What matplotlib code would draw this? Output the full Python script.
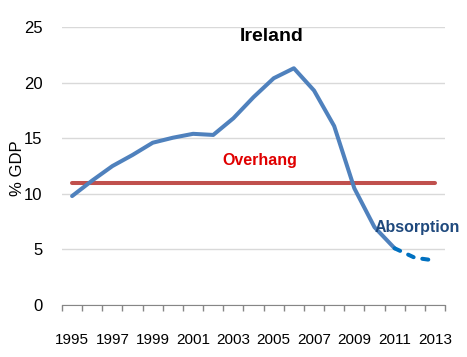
import matplotlib
matplotlib.use("Agg")
import matplotlib.pyplot as plt

# Ireland, % GDP
years = list(range(1995, 2014))
values = [9.8, 11.2, 12.5, 13.5, 14.6, 15.05, 15.4, 15.3, 16.8, 18.7,
          20.4, 21.3, 19.3, 16.1, 10.5, 7.0, 5.1, 4.25, 4.0]
split_year = 2011
overhang = 11.0
yticks = [0, 5, 10, 15, 20, 25]
xlabels = list(range(1995, 2014, 2))

plt.rcParams['font.family'] = ['Liberation Sans', 'DejaVu Sans']

fig = plt.figure(figsize=(4.67, 3.57), dpi=100)
ax = fig.add_axes([0.1328, 0.1457, 0.8202, 0.7783])

i = years.index(split_year)
ax.plot(years[:i + 1], values[:i + 1], color='#4F81BD', lw=2.9,
        solid_capstyle='round', zorder=3)
ax.plot(years[i:], values[i:], color='#0070C0', lw=2.9,
        dashes=(1.5, 2.2), dash_capstyle='round', zorder=3)
ax.plot([years[0], years[-1]], [overhang, overhang], color='#C0504D', lw=2.9,
        solid_capstyle='round', zorder=2)

ax.set_ylim(0, 25)
ax.set_xlim(years[0] - 0.5, years[-1] + 0.5)
ax.set_yticks(yticks)
ax.yaxis.grid(True, color='#D9D9D9', lw=1)
ax.set_axisbelow(True)

ax.set_xticks(xlabels)
ax.set_xticks([y - 0.5 for y in years] + [years[-1] + 0.5], minor=True)
ax.tick_params(axis='x', which='major', length=0, pad=20, labelsize=11)
ax.tick_params(axis='x', which='minor', length=4, color='#868686', width=1)
ax.tick_params(axis='y', length=0, pad=14, labelsize=12)

for s in ['top', 'right', 'left']:
    ax.spines[s].set_visible(False)
ax.spines['bottom'].set_color('#868686')

# label sits close to the tick numbers, as in the original
fig.text(0.038, 0.53, '% GDP', rotation=90, ha='center', va='center', fontsize=12)

ax.text(2004.9, 24.2, 'Ireland', ha='center', va='center',
        fontsize=14, fontweight='bold')
ax.text(2004.3, 13.0, 'Overhang', ha='center', va='center', color='#E00000',
        fontsize=11.5, fontweight='bold')
ax.text(2012.1, 7.0, 'Absorption', ha='center', va='center', color='#1F497D',
        fontsize=11.5, fontweight='bold')

fig.savefig('out.png', dpi=100)
